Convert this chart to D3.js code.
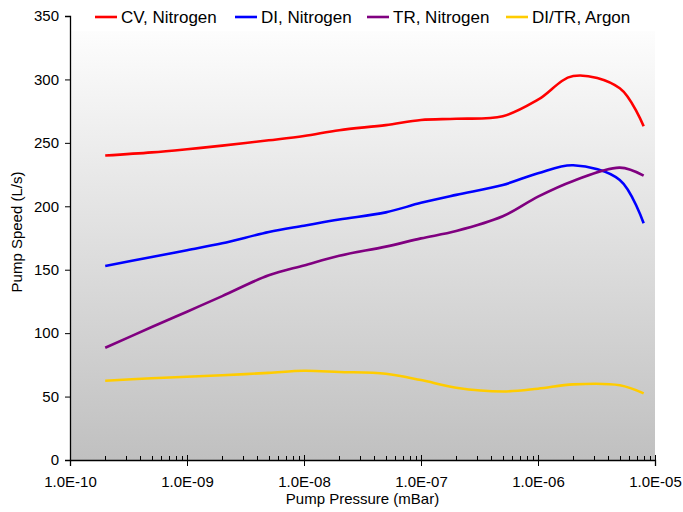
<!DOCTYPE html>
<html>
<head>
<meta charset="utf-8">
<script src="https://cdn.jsdelivr.net/npm/d3@7"></script>
<style>
  body { margin: 0; background: #fff; }
  svg { font-family: "Liberation Sans", Arial, sans-serif; }
</style>
</head>
<body>
<script>
// pressures (mBar) where the curves were read
var pressure = [2e-10, 5e-10, 1e-9, 2e-9, 5e-9, 1e-8, 2e-8, 5e-8, 1e-7, 2e-7, 5e-7, 1e-6, 2e-6, 5e-6, 8e-6];

var cvNitrogen = [240, 242.5, 245, 247.8, 252, 255.4, 260, 264, 268, 269, 271, 284, 302.7, 293, 263];
var diNitrogen = [153, 160, 165.4, 170.8, 179.7, 184.7, 189.6, 195.2, 202.7, 209, 216.8, 226, 232.3, 220.7, 186.6];
var trNitrogen = [88.5, 104.8, 116.9, 129.2, 145.6, 153.4, 161, 168.2, 174.7, 180.5, 192.1, 207.6, 220, 230.5, 224.2];
var ditrArgon  = [62.5, 64.4, 65.6, 66.8, 68.7, 70.3, 69.4, 68, 63, 57, 54, 56.2, 59.6, 58.9, 52.5];

var seriesNames = ["CV, Nitrogen", "DI, Nitrogen", "TR, Nitrogen", "DI/TR, Argon"];
var seriesColors = ["#ff0000", "#0000ff", "#800080", "#ffcc00"];
var xTicks = [1e-10, 1e-9, 1e-8, 1e-7, 1e-6, 1e-5];
var yTicks = [0, 50, 100, 150, 200, 250, 300, 350];

var W = 683, H = 512;
var margin = {top: 16, right: 28, bottom: 52, left: 70},
    width = W - margin.left - margin.right,
    height = H - margin.top - margin.bottom;

var svg = d3.select("body").append("svg")
  .attr("width", W)
  .attr("height", H);

var defs = svg.append("defs");
var grad = defs.append("linearGradient")
  .attr("id", "bg")
  .attr("x1", 0).attr("y1", 0).attr("x2", 0).attr("y2", 1);
grad.append("stop").attr("offset", "0%").attr("stop-color", "#ffffff");
grad.append("stop").attr("offset", "100%").attr("stop-color", "#c0c0c0");

var g = svg.append("g")
  .attr("transform", "translate(" + margin.left + "," + margin.top + ")");

var x = d3.scaleLog().domain([1e-10, 1e-5]).range([0, width]);
var y = d3.scaleLinear().domain([0, 350]).range([height, 0]);

g.append("rect")
  .attr("width", width)
  .attr("height", height)
  .attr("fill", "url(#bg)");

// white strip behind the legend
g.append("rect")
  .attr("x", 1).attr("y", 0)
  .attr("width", width - 1)
  .attr("height", 15)
  .attr("fill", "#fff");

var data = [cvNitrogen, diNitrogen, trNitrogen, ditrArgon].map(function (vals, i) {
  return {
    name: seriesNames[i],
    color: seriesColors[i],
    values: vals.map(function (v, j) { return {p: pressure[j], s: v}; })
  };
});

var line = d3.line()
  .curve(d3.curveCatmullRom.alpha(0.5))
  .x(function (d) { return x(d.p); })
  .y(function (d) { return y(d.s); });

g.selectAll(".series")
  .data(data)
  .enter().append("path")
  .attr("class", "series")
  .attr("fill", "none")
  .attr("stroke", function (d) { return d.color; })
  .attr("stroke-width", 2.6)
  .attr("stroke-linejoin", "round")
  .attr("d", function (d) { return line(d.values); });

// y axis
var yAxis = g.append("g")
  .call(d3.axisLeft(y).tickValues(yTicks).tickSize(5).tickPadding(6));
yAxis.select(".domain").attr("stroke", "#000").attr("stroke-width", 1.3);
yAxis.selectAll(".tick line").attr("stroke", "#000");
yAxis.selectAll("text").attr("font-size", 15).attr("fill", "#000");

// minor x ticks (inside only)
var minor = [];
xTicks.slice(0, -1).forEach(function (t) {
  for (var k = 2; k <= 9; k++) minor.push(t * k);
});
g.append("g")
  .selectAll("line")
  .data(minor)
  .enter().append("line")
  .attr("x1", function (d) { return Math.round(x(d)) + 0.5; })
  .attr("x2", function (d) { return Math.round(x(d)) + 0.5; })
  .attr("y1", height - 4)
  .attr("y2", height)
  .attr("stroke", "#000");

// x axis
var fmt = function (d) {
  var e = Math.round(Math.log10(d));
  return "1.0E-" + String(-e).padStart(2, "0");
};
var xAxis = g.append("g")
  .attr("transform", "translate(0," + height + ")")
  .call(d3.axisBottom(x).tickValues(xTicks).tickFormat(fmt).tickSize(6).tickPadding(10));
xAxis.select(".domain").attr("stroke", "#000").attr("stroke-width", 1.3);
xAxis.selectAll(".tick line").attr("stroke", "#000").attr("y1", -5);
xAxis.selectAll("text").attr("font-size", 15).attr("fill", "#000");

// axis titles
svg.append("text")
  .attr("x", margin.left + width / 2)
  .attr("y", 504)
  .attr("text-anchor", "middle")
  .attr("font-size", 15)
  .text("Pump Pressure (mBar)");

svg.append("text")
  .attr("transform", "translate(22," + 232 + ") rotate(-90)")
  .attr("text-anchor", "middle")
  .attr("font-size", 15)
  .text("Pump Speed (L/s)");

// legend
var legendX = [95, 235, 367, 506];
var legend = svg.append("g").selectAll("g")
  .data(data)
  .enter().append("g")
  .attr("transform", function (d, i) { return "translate(" + legendX[i] + ",17)"; });
legend.append("line")
  .attr("x1", 0).attr("x2", 22)
  .attr("stroke", function (d) { return d.color; })
  .attr("stroke-width", 2.6);
legend.append("text")
  .attr("x", 26)
  .attr("y", 6)
  .attr("font-size", 17)
  .text(function (d) { return d.name; });
</script>
</body>
</html>
